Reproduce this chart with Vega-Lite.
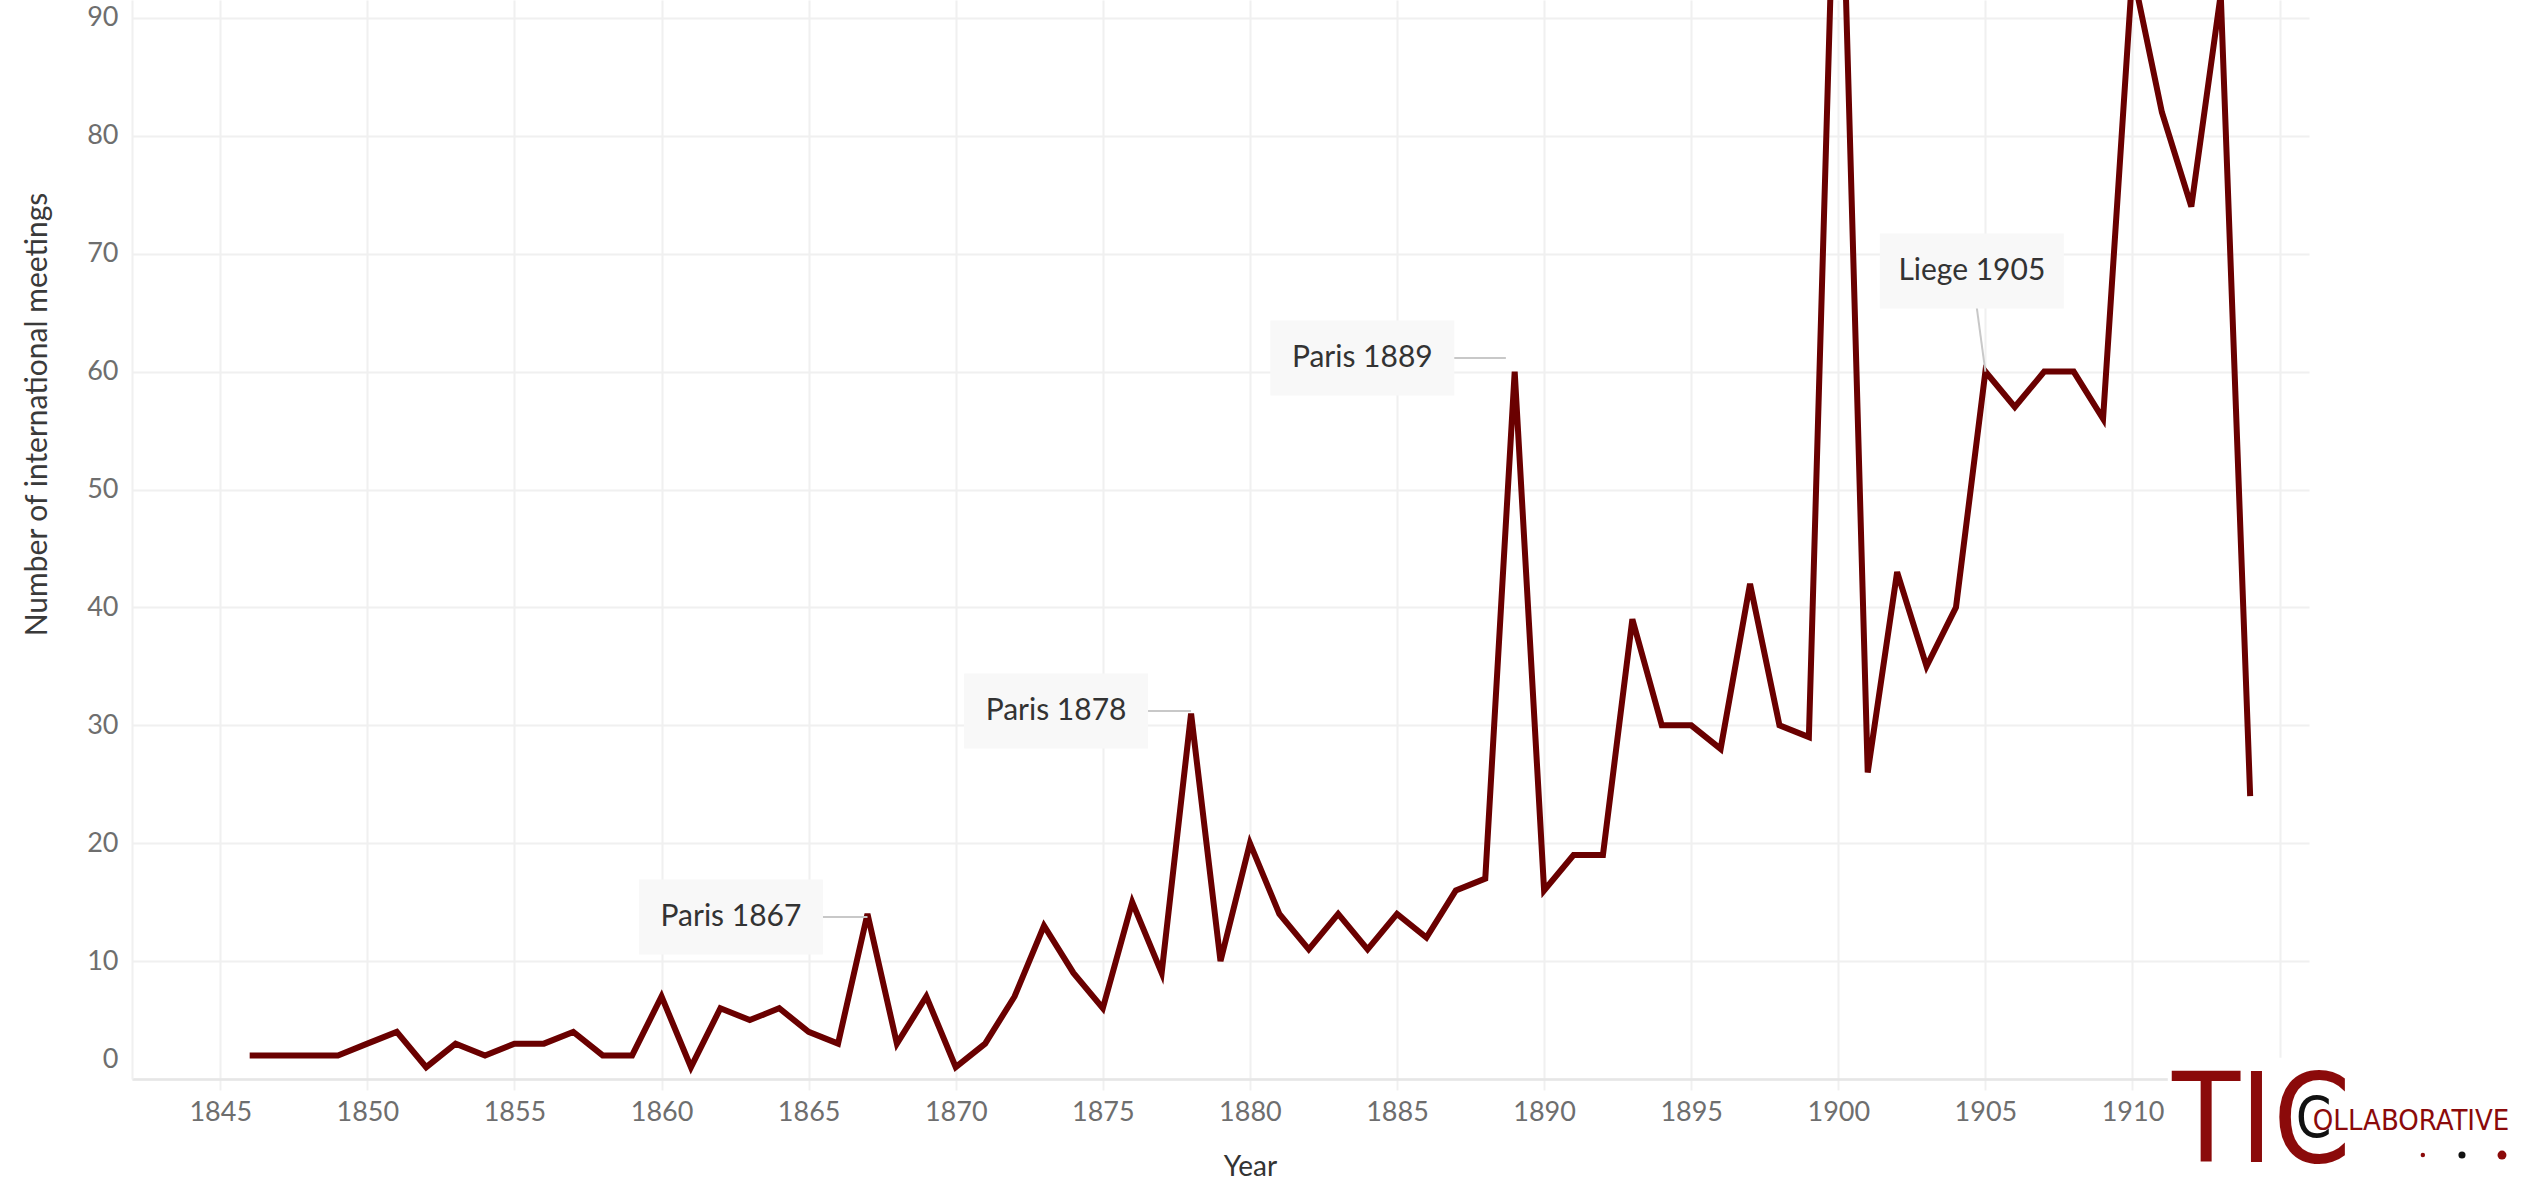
{
  "$schema": "https://vega.github.io/schema/vega-lite/v6.json",
  "width": 2177,
  "height": 1079,
  "autosize": {"type": "none"},
  "padding": {"left": 132, "top": 0, "right": 217, "bottom": 103},
  "background": "white",
  "view": {"stroke": null},
  "datasets": {
    "meetings": [
      {"year": 1846, "meetings": 2}, {"year": 1847, "meetings": 2}, {"year": 1848, "meetings": 2}, {"year": 1849, "meetings": 2},
      {"year": 1850, "meetings": 3}, {"year": 1851, "meetings": 4}, {"year": 1852, "meetings": 1}, {"year": 1853, "meetings": 3},
      {"year": 1854, "meetings": 2}, {"year": 1855, "meetings": 3}, {"year": 1856, "meetings": 3}, {"year": 1857, "meetings": 4},
      {"year": 1858, "meetings": 2}, {"year": 1859, "meetings": 2}, {"year": 1860, "meetings": 7}, {"year": 1861, "meetings": 1},
      {"year": 1862, "meetings": 6}, {"year": 1863, "meetings": 5}, {"year": 1864, "meetings": 6}, {"year": 1865, "meetings": 4},
      {"year": 1866, "meetings": 3}, {"year": 1867, "meetings": 14}, {"year": 1868, "meetings": 3}, {"year": 1869, "meetings": 7},
      {"year": 1870, "meetings": 1}, {"year": 1871, "meetings": 3}, {"year": 1872, "meetings": 7}, {"year": 1873, "meetings": 13},
      {"year": 1874, "meetings": 9}, {"year": 1875, "meetings": 6}, {"year": 1876, "meetings": 15}, {"year": 1877, "meetings": 9},
      {"year": 1878, "meetings": 31}, {"year": 1879, "meetings": 10}, {"year": 1880, "meetings": 20}, {"year": 1881, "meetings": 14},
      {"year": 1882, "meetings": 11}, {"year": 1883, "meetings": 14}, {"year": 1884, "meetings": 11}, {"year": 1885, "meetings": 14},
      {"year": 1886, "meetings": 12}, {"year": 1887, "meetings": 16}, {"year": 1888, "meetings": 17}, {"year": 1889, "meetings": 60},
      {"year": 1890, "meetings": 16}, {"year": 1891, "meetings": 19}, {"year": 1892, "meetings": 19}, {"year": 1893, "meetings": 39},
      {"year": 1894, "meetings": 30}, {"year": 1895, "meetings": 30}, {"year": 1896, "meetings": 28}, {"year": 1897, "meetings": 42},
      {"year": 1898, "meetings": 30}, {"year": 1899, "meetings": 29}, {"year": 1900, "meetings": 115}, {"year": 1901, "meetings": 26},
      {"year": 1902, "meetings": 43}, {"year": 1903, "meetings": 35}, {"year": 1904, "meetings": 40}, {"year": 1905, "meetings": 60},
      {"year": 1906, "meetings": 57}, {"year": 1907, "meetings": 60}, {"year": 1908, "meetings": 60}, {"year": 1909, "meetings": 56},
      {"year": 1910, "meetings": 94}, {"year": 1911, "meetings": 82}, {"year": 1912, "meetings": 74}, {"year": 1913, "meetings": 92},
      {"year": 1914, "meetings": 24}
    ],
    "notes": [
      {"label": "Paris 1867", "year": 1867, "value": 13.74, "ly": 1862.36, "lv": 13.74},
      {"label": "Paris 1878", "year": 1878, "value": 31.21, "ly": 1873.41, "lv": 31.21},
      {"label": "Paris 1889", "year": 1888.7, "value": 61.15, "ly": 1883.82, "lv": 61.15},
      {"label": "Liege 1905", "year": 1905, "value": 60, "ly": 1904.54, "lv": 68.53}
    ],
    "logoBox": [{"x1": 1911.2, "x2": 1924, "v1": 1.8, "v2": -9}],
    "logoBig": [{"t": "TIC", "x": 1911.34, "v": -7.04}],
    "logoC": [{"t": "C", "x": 1915.55, "v": -5.0}],
    "logoSmall": [{"t": "OLLABORATIVE", "x": 1916.13, "v": -4.33}],
    "logoDots": [
      {"dot": "s", "x": 1919.87, "v": -6.45},
      {"dot": "m", "x": 1921.2, "v": -6.45},
      {"dot": "l", "x": 1922.56, "v": -6.45}
    ]
  },
  "layer": [
    {
      "data": {"name": "meetings"},
      "mark": {"type": "line", "color": "#6a0000", "strokeWidth": 6, "clip": true, "strokeJoin": "miter"},
      "encoding": {
        "x": {
          "field": "year", "type": "quantitative",
          "scale": {"domain": [1842, 1916], "nice": false, "zero": false},
          "axis": {
            "values": [1845, 1850, 1855, 1860, 1865, 1870, 1875, 1880, 1885, 1890, 1895, 1900, 1905, 1910, 1915],
            "format": "d",
            "labelExpr": "datum.value == 1915 ? '' : datum.label",
            "grid": true, "gridColor": "#f0f0f0", "gridWidth": 2,
            "domain": true, "domainColor": "#e6e6e6", "domainWidth": 2.5,
            "ticks": true, "tickColor": "#f0f0f0", "tickWidth": 2, "tickSize": 11,
            "labelFont": "Lato", "labelFontSize": 27, "labelColor": "#6e6e6e", "labelPadding": 9,
            "title": "Year", "titleFont": "Lato", "titleFontSize": 28, "titleFontWeight": "normal", "titleColor": "#333333",
            "titleX": 1118, "titleY": 88, "titleBaseline": "middle", "titleAlign": "center"
          }
        },
        "y": {
          "field": "meetings", "type": "quantitative",
          "scale": {"domain": [0, 91.52], "nice": false},
          "axis": {
            "values": [0, 10, 20, 30, 40, 50, 60, 70, 80, 90],
            "grid": true, "gridColor": "#f0f0f0", "gridWidth": 2,
            "domain": true, "domainColor": "#f0f0f0", "domainWidth": 2,
            "ticks": false,
            "labelFont": "Lato", "labelFontSize": 27, "labelColor": "#6e6e6e", "labelPadding": 14,
            "labelFlush": true, "labelFlushOffset": -6,
            "title": "Number of international meetings", "titleFont": "Lato", "titleFontSize": 30, "titleFontWeight": "normal", "titleColor": "#3a3a3a",
            "titleX": -95, "titleY": 414, "titleAngle": 270, "titleBaseline": "middle", "titleAlign": "center"
          }
        }
      }
    },
    {
      "data": {"name": "notes"},
      "mark": {"type": "rule", "color": "#c8c8c8", "strokeWidth": 2},
      "encoding": {
        "x": {"field": "ly", "type": "quantitative", "scale": {"domain": [1842, 1916], "nice": false, "zero": false}},
        "y": {"field": "lv", "type": "quantitative", "scale": {"domain": [0, 91.52], "nice": false}},
        "x2": {"field": "year"},
        "y2": {"field": "value"}
      }
    },
    {
      "data": {"name": "notes"},
      "mark": {"type": "point", "shape": "M-1,-0.4076L1,-0.4076L1,0.4076L-1,0.4076Z", "size": 33856, "filled": true, "fill": "#f8f8f8", "opacity": 1, "strokeWidth": 0},
      "encoding": {
        "x": {"field": "ly", "type": "quantitative", "scale": {"domain": [1842, 1916], "nice": false, "zero": false}},
        "y": {"field": "lv", "type": "quantitative", "scale": {"domain": [0, 91.52], "nice": false}}
      }
    },
    {
      "data": {"name": "notes"},
      "mark": {"type": "text", "font": "Lato", "fontSize": 30, "color": "#333333", "align": "center", "baseline": "middle"},
      "encoding": {
        "x": {"field": "ly", "type": "quantitative", "scale": {"domain": [1842, 1916], "nice": false, "zero": false}},
        "y": {"field": "lv", "type": "quantitative", "scale": {"domain": [0, 91.52], "nice": false}},
        "text": {"field": "label"}
      }
    },
    {
      "data": {"name": "logoBox"},
      "mark": {"type": "rect", "color": "white", "clip": false},
      "encoding": {
        "x": {"field": "x1", "type": "quantitative", "scale": {"domain": [1842, 1916], "nice": false, "zero": false}},
        "x2": {"field": "x2"},
        "y": {"field": "v1", "type": "quantitative", "scale": {"domain": [0, 91.52], "nice": false}},
        "y2": {"field": "v2"}
      }
    },
    {
      "data": {"name": "logoBig"},
      "mark": {"type": "text", "font": "Liberation Sans Narrow, DejaVu Sans Condensed, sans-serif", "fontSize": 124, "color": "#8b0a0a", "align": "left", "baseline": "alphabetic", "clip": false},
      "encoding": {
        "x": {"field": "x", "type": "quantitative", "scale": {"domain": [1842, 1916], "nice": false, "zero": false}},
        "y": {"field": "v", "type": "quantitative", "scale": {"domain": [0, 91.52], "nice": false}},
        "text": {"field": "t"}
      }
    },
    {
      "data": {"name": "logoC"},
      "mark": {"type": "text", "font": "Liberation Sans Narrow, DejaVu Sans Condensed, sans-serif", "fontSize": 57, "color": "#111111", "align": "left", "baseline": "alphabetic", "clip": false},
      "encoding": {
        "x": {"field": "x", "type": "quantitative", "scale": {"domain": [1842, 1916], "nice": false, "zero": false}},
        "y": {"field": "v", "type": "quantitative", "scale": {"domain": [0, 91.52], "nice": false}},
        "text": {"field": "t"}
      }
    },
    {
      "data": {"name": "logoSmall"},
      "mark": {"type": "text", "font": "Liberation Sans Narrow, DejaVu Sans Condensed, sans-serif", "fontSize": 29, "color": "#8b0a0a", "align": "left", "baseline": "alphabetic", "clip": false},
      "encoding": {
        "x": {"field": "x", "type": "quantitative", "scale": {"domain": [1842, 1916], "nice": false, "zero": false}},
        "y": {"field": "v", "type": "quantitative", "scale": {"domain": [0, 91.52], "nice": false}},
        "text": {"field": "t"}
      }
    },
    {
      "data": {"name": "logoDots"},
      "mark": {"type": "circle", "opacity": 1, "clip": false},
      "encoding": {
        "x": {"field": "x", "type": "quantitative", "scale": {"domain": [1842, 1916], "nice": false, "zero": false}},
        "y": {"field": "v", "type": "quantitative", "scale": {"domain": [0, 91.52], "nice": false}},
        "size": {"field": "dot", "type": "nominal", "scale": {"domain": ["s", "m", "l"], "range": [20, 80, 180]}, "legend": null},
        "color": {"field": "dot", "type": "nominal", "scale": {"domain": ["s", "m", "l"], "range": ["#8b0a0a", "#111111", "#8b0a0a"]}, "legend": null}
      }
    }
  ]
}
